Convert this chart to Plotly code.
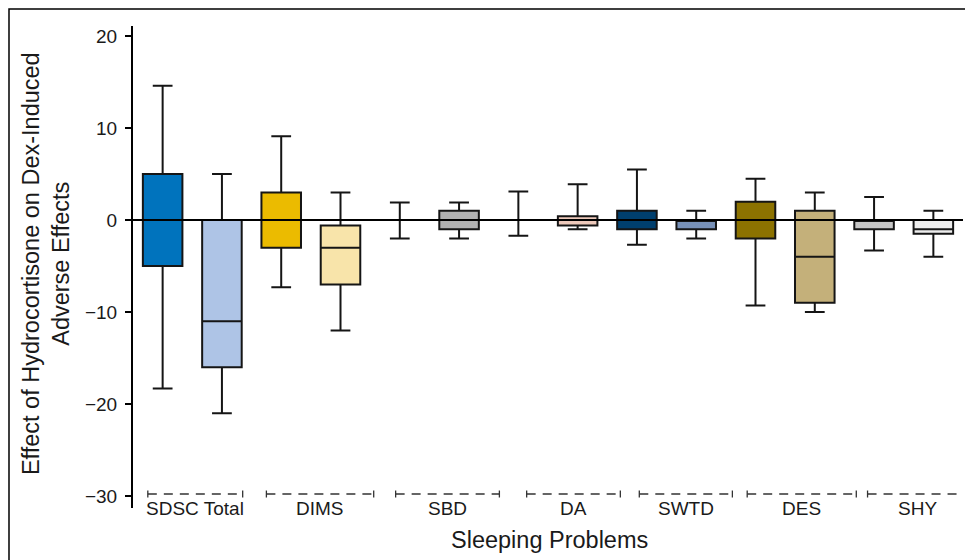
import plotly.graph_objects as go

# ---------------- data ----------------
groups = ["SDSC Total", "DIMS", "SBD", "DA", "SWTD", "DES", "SHY"]
box_lower = [-18.3, -21.0, -7.3, -12.0, -2.0, -2.0, -1.7, -1.0, -2.7, -2.0, -9.3, -10.0, -3.3, -4.0]
box_q1 = [-5.0, -16.0, -3.0, -7.0, 0.0, -1.0, 0.0, -0.6, -1.0, -1.0, -2.0, -9.0, -1.0, -1.5]
box_median = [0.0, -11.0, 0.0, -3.0, 0.0, 0.0, 0.0, 0.0, 0.0, 0.0, 0.0, -4.0, 0.0, -1.0]
box_q3 = [5.0, 0.0, 3.0, -0.6, 0.0, 1.0, 0.0, 0.4, 1.0, 0.0, 2.0, 1.0, 0.0, 0.0]
box_upper = [14.6, 5.0, 9.1, 3.0, 1.9, 1.9, 3.1, 3.9, 5.5, 1.0, 4.5, 3.0, 2.5, 1.0]
y_tickvals = [-30, -20, -10, 0, 10, 20]
y_ticktext = ["\u221230", "\u221220", "\u221210", "0", "10", "20"]
y_title = "Effect of Hydrocortisone on Dex-Induced<br>Adverse Effects"
x_title = "Sleeping Problems"

# ---------------- style ----------------
box_colors = ["#0073BD", "#AEC4E6", "#EBBB00", "#F8E4AA", "#9A9A9A", "#B2B2B2",
              "#5B1A1A", "#EDC9BB", "#003F6E", "#7891B8", "#8C7200", "#C4B07A",
              "#C6C6C6", "#EDEDED"]
# bracket extents under each group label (axis units, as drawn in the original)
bracket_spans = [(-0.25, 1.35), (1.75, 3.56), (3.93, 5.68), (6.14, 7.72),
                 (8.04, 9.61), (9.86, 11.70), (11.89, 13.56)]
tick_font = dict(family="Liberation Sans, Arial, sans-serif", size=19, color="#1a1a1a")
title_font = dict(family="Liberation Sans, Arial, sans-serif", size=23.5, color="#1a1a1a")

fig = go.Figure()
for i in range(len(box_q1)):
    fig.add_trace(go.Box(
        x=[i], q1=[box_q1[i]], median=[box_median[i]], q3=[box_q3[i]],
        lowerfence=[box_lower[i]], upperfence=[box_upper[i]],
        width=0.667, whiskerwidth=0.5, boxpoints=False,
        fillcolor=box_colors[i], line=dict(color="#151515", width=2),
        hoverinfo="skip", showlegend=False,
    ))

shapes = [
    # zero reference line
    dict(type="line", xref="paper", yref="y", x0=0, x1=1, y0=0, y1=0,
         line=dict(color="#000000", width=2), layer="above"),
    # outer frame
    dict(type="rect", xref="paper", yref="paper", x0=-0.1494, x1=1.2, y0=-0.3, y1=1.0353,
         line=dict(color="#000000", width=1.5), layer="below"),
]
annotations = []
yb = -29.78
for g, (a, b) in zip(groups, bracket_spans):
    shapes.append(dict(type="line", x0=a, x1=b, y0=yb, y1=yb, xref="x", yref="y",
                       line=dict(color="#333333", width=1.3, dash="9px,7px")))
    for xe in (a, b):
        shapes.append(dict(type="line", x0=xe, x1=xe, y0=yb - 0.38, y1=yb + 0.38,
                           xref="x", yref="y", line=dict(color="#333333", width=1.3)))
    annotations.append(dict(x=(a + b) / 2, y=0, xref="x", yref="paper", text=g,
                            showarrow=False, xanchor="center", yanchor="middle",
                            font=tick_font))

annotations.append(dict(x=0.502, y=-0.066, xref="paper", yref="paper", text=x_title,
                        showarrow=False, xanchor="center", yanchor="middle", font=title_font))
annotations.append(dict(x=0, y=0.506, xref="paper", yref="paper", text=y_title,
                        showarrow=False, xanchor="center", yanchor="middle", textangle=-90,
                        xshift=-87, font=title_font))

fig.update_layout(
    width=973, height=560, autosize=False,
    margin=dict(l=125, r=18, t=18, b=60),
    paper_bgcolor="white", plot_bgcolor="white",
    shapes=shapes, annotations=annotations,
    boxmode="overlay",
    xaxis=dict(range=[-0.5, 13.5], visible=False, fixedrange=True),
    yaxis=dict(range=[-31.3, 21.09], tickvals=y_tickvals, ticktext=y_ticktext,
               showline=True, linecolor="#000000", linewidth=2,
               ticks="outside", ticklen=6, tickwidth=2, tickcolor="#000000",
               showgrid=False, zeroline=False, tickfont=tick_font, ticklabelstandoff=4),
)

fig.write_html("out.html")
